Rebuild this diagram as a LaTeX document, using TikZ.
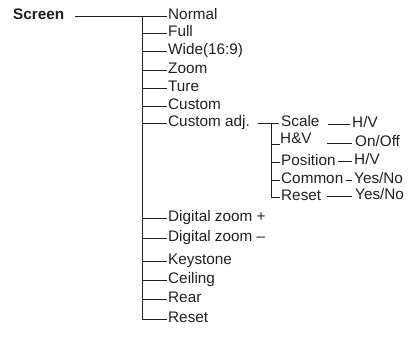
\documentclass[tikz,border=0pt]{standalone}
\usepackage{fontspec}
\setmainfont{Liberation Sans}
\definecolor{ink}{HTML}{231F20}
\begin{document}
\begin{tikzpicture}[x=1pt,y=-1pt,
  lbl/.style={inner sep=0pt, anchor=west, text height=0.72em, text depth=0pt,
              font=\fontsize{15.3}{18}\selectfont, text=ink},
  conn/.style={draw=ink, line width=0.8pt}]
\useasboundingbox (0,0) rectangle (415,343);
% root
\node[lbl, font=\fontsize{15.3}{18}\selectfont\bfseries] (screen) at (13,16) {Screen};
% main items
\node[lbl] (normal) at (168,16)  {Normal};
\node[lbl] (full)   at (168,33)  {Full};
\node[lbl] (wide)   at (168,51)  {Wide(16:9)};
\node[lbl] (zoom)   at (168,70)  {Zoom};
\node[lbl] (ture)   at (168,88)  {Ture};
\node[lbl] (custom) at (168,106) {Custom};
\node[lbl] (cadj)   at (168,123) {Custom adj.};
\node[lbl] (dzp)    at (168,218) {Digital zoom +};
\node[lbl] (dzm)    at (168,238) {Digital zoom --};
\node[lbl] (key)    at (168,261) {Keystone};
\node[lbl] (ceil)   at (168,280) {Ceiling};
\node[lbl] (rear)   at (168,299) {Rear};
\node[lbl] (reset)  at (168,319) {Reset};
% sub items
\node[lbl] (scale)  at (281,123) {Scale};
\node[lbl, anchor=south west] (hv) at (280,144) {H\&V};
\node[lbl] (pos)    at (281,162) {Position};
\node[lbl] (common) at (281,180) {Common};
\node[lbl] (sreset) at (281,197) {Reset};
% values
\node[lbl] (scaleV) at (352,124) {H/V};
\node[lbl] (hvV)    at (355,143) {On/Off};
\node[lbl] (posV)   at (354,161) {H/V};
\node[lbl] (comV)   at (354,180) {Yes/No};
\node[lbl] (resV)   at (355,196) {Yes/No};
% trunk
\coordinate (tt) at (142,16);
\coordinate (st) at (271,123);
\draw[conn] ([xshift=11pt]screen.east) -- ([xshift=-1pt]normal.west);
\draw[conn] (tt) |- ([xshift=-1pt]reset.west);
\foreach \n in {full,wide,zoom,ture,custom,cadj,dzp,dzm,key,ceil,rear}
  \draw[conn] (\n.west -| tt) -- ([xshift=-1pt]\n.west);
% sub trunk
\draw[conn] ([xshift=8pt]cadj.east) -- ([xshift=-2pt]scale.west);
\draw[conn] (st) |- ([xshift=-1pt]sreset.west);
\draw[conn] (hv.south west -| st) -- (hv.south west);
\draw[conn] (pos.west -| st) -- ([xshift=-1pt]pos.west);
\draw[conn] (common.west -| st) -- ([xshift=-1pt]common.west);
% value connectors
\draw[conn] ([xshift=-24pt]scaleV.west) -- ([xshift=-2pt]scaleV.west);
\draw[conn] ([xshift=-28pt]hvV.west) -- ([xshift=-3pt]hvV.west);
\draw[conn] ([xshift=-16pt]posV.west) -- ([xshift=-2pt]posV.west);
\draw[conn] ([xshift=-8pt]comV.west) -- ([xshift=-2pt]comV.west);
\draw[conn] ([xshift=-28pt]resV.west) -- ([xshift=-3pt]resV.west);
\end{tikzpicture}
\end{document}
